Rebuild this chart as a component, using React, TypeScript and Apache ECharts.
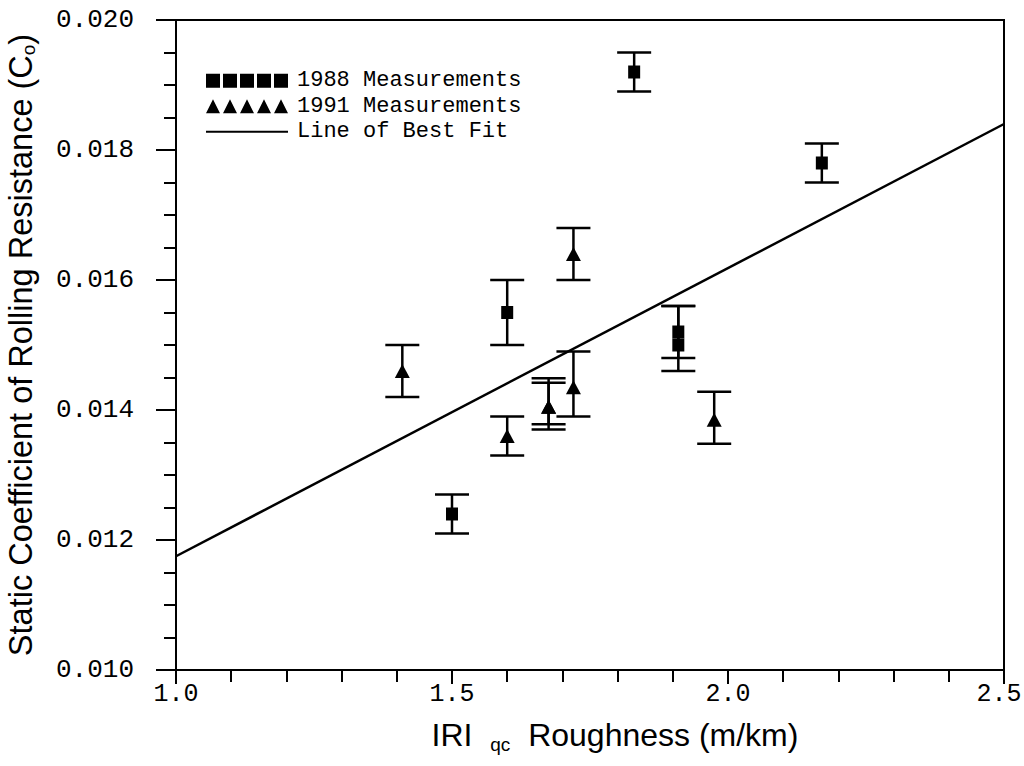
import React, { useEffect, useRef } from "react";
import * as echarts from "echarts";

// 1988 measurements: x, y, error low, error high
const x1988 = [1.50, 1.60, 1.83, 1.91, 1.91, 2.17];
const y1988 = [0.0124, 0.0155, 0.0192, 0.0152, 0.0150, 0.0178];
const lo1988 = [0.0121, 0.0150, 0.0189, 0.0148, 0.0146, 0.0175];
const hi1988 = [0.0127, 0.0160, 0.0195, 0.0156, 0.0156, 0.0181];

// 1991 measurements
const x1991 = [1.41, 1.60, 1.675, 1.675, 1.72, 1.72, 1.975];
const y1991 = [0.0146, 0.0136, 0.01405, 0.01405, 0.01435, 0.0164, 0.01385];
const lo1991 = [0.0142, 0.0133, 0.0137, 0.01378, 0.0139, 0.0160, 0.01348];
const hi1991 = [0.0150, 0.0139, 0.01449, 0.01442, 0.0149, 0.0168, 0.01428];

// Line of best fit endpoints
const fitX = [1.0, 2.5];
const fitY = [0.01175, 0.0184];

const xTicks = { min: 1.0, max: 2.5, interval: 0.5 };
const yTicks = { min: 0.010, max: 0.020, interval: 0.002 };

const SERIES_1988 = "1988 Measurements";
const SERIES_1991 = "1991 Measurements";
const SERIES_FIT = "Line of Best Fit";

const squaresIcon =
  "path://M0,0h14v14h-14z M17,0h14v14h-14z M34,0h14v14h-14z M51,0h14v14h-14z M68,0h14v14h-14z";
const trianglesIcon =
  "path://M0,14L7,0L14,14z M17,14L24,0L31,14z M34,14L41,0L48,14z M51,14L58,0L65,14z M68,14L75,0L82,14z";

const MONO = "'Courier New', 'Liberation Mono', monospace";
const SANS = "'Liberation Sans', Arial, sans-serif";

export default function App() {
  const ref = useRef<HTMLDivElement>(null);

  useEffect(() => {
    if (!ref.current) return;
    const chart = echarts.init(ref.current, null, { renderer: "svg" });

    const err1988 = x1988.map((x, i) => [x, lo1988[i], hi1988[i]]);
    const err1991 = x1991.map((x, i) => [x, lo1991[i], hi1991[i]]);

    const renderErr = (params: any, api: any) => {
      const x = api.value(0);
      const lo = api.value(1);
      const hi = api.value(2);
      const pHi = api.coord([x, hi]);
      const pLo = api.coord([x, lo]);
      const half = 17;
      const style = { stroke: "#000", lineWidth: 2.5, fill: "none" };
      return {
        type: "group",
        children: [
          { type: "line", shape: { x1: pHi[0], y1: pHi[1], x2: pLo[0], y2: pLo[1] }, style },
          { type: "line", shape: { x1: pHi[0] - half, y1: pHi[1], x2: pHi[0] + half, y2: pHi[1] }, style },
          { type: "line", shape: { x1: pLo[0] - half, y1: pLo[1], x2: pLo[0] + half, y2: pLo[1] }, style },
        ],
      };
    };

    chart.setOption({
      animation: false,
      backgroundColor: "#fff",
      grid: {
        left: 176,
        right: 20,
        top: 20,
        bottom: 96,
        show: true,
        borderColor: "#000",
        borderWidth: 2,
        backgroundColor: "transparent",
        outerBoundsMode: "none",
        containLabel: false,
      },
      legend: {
        orient: "vertical",
        left: 200,
        top: 63,
        itemWidth: 82,
        itemHeight: 14,
        itemGap: 0,
        selectedMode: false,
        textStyle: { fontFamily: MONO, fontSize: 22, color: "#000", lineHeight: 25.5, padding: [0, 0, 0, 4] },
        data: [
          { name: SERIES_1988, icon: squaresIcon, itemStyle: { color: "#000" } },
          { name: SERIES_1991, icon: trianglesIcon, itemStyle: { color: "#000" } },
          { name: SERIES_FIT, itemStyle: { opacity: 0 }, lineStyle: { color: "#000", width: 2, opacity: 1 } },
        ],
      },
      xAxis: {
        type: "value",
        min: xTicks.min,
        max: xTicks.max,
        interval: xTicks.interval,
        splitLine: { show: false },
        axisLine: { lineStyle: { color: "#000", width: 2 } },
        axisTick: { length: 14, lineStyle: { color: "#000", width: 2 } },
        minorTick: { show: true, splitNumber: 5, length: 12, lineStyle: { color: "#000", width: 2 } },
        axisLabel: {
          formatter: (v: number) => (v >= xTicks.max ? "{r|" + v.toFixed(1) + "}" : v.toFixed(1)),
          fontFamily: MONO,
          fontSize: 25,
          color: "#000",
          margin: 12,
          rich: {
            r: { fontFamily: MONO, fontSize: 25, color: "#000", padding: [0, 10, 0, 0] },
          },
        },
        name: "{a|IRI  }{s|qc}{a|  Roughness (m/km)}",
        nameLocation: "middle",
        nameGap: 46,
        nameTextStyle: {
          padding: [0, 0, 0, 50],
          rich: {
            a: { fontFamily: SANS, fontSize: 32, color: "#000", lineHeight: 38 },
            s: { fontFamily: SANS, fontSize: 19, color: "#000", lineHeight: 38, padding: [19, 0, 0, 0] },
          },
        },
      },
      yAxis: {
        type: "value",
        min: yTicks.min,
        max: yTicks.max,
        interval: yTicks.interval,
        splitLine: { show: false },
        axisLine: { lineStyle: { color: "#000", width: 2 } },
        axisTick: { length: 20, lineStyle: { color: "#000", width: 2 } },
        minorTick: { show: true, splitNumber: 4, length: 12, lineStyle: { color: "#000", width: 2 } },
        axisLabel: {
          formatter: (v: number) => v.toFixed(3),
          fontFamily: MONO,
          fontSize: 26,
          color: "#000",
          margin: 42,
        },
        name: "{a|Static Coefficient of Rolling Resistance (C}{s|o}{a|)}",
        nameLocation: "middle",
        nameGap: 137,
        nameRotate: 90,
        nameTextStyle: {
          rich: {
            a: { fontFamily: SANS, fontSize: 32.5, color: "#000", lineHeight: 36 },
            s: { fontFamily: SANS, fontSize: 19, color: "#000", lineHeight: 36, padding: [15, 0, 0, 0] },
          },
        },
      },
      series: [
        {
          name: SERIES_FIT,
          type: "line",
          data: fitX.map((x, i) => [x, fitY[i]]),
          symbol: "none",
          lineStyle: { color: "#000", width: 2.5 },
          itemStyle: { color: "#000" },
          silent: true,
          z: 3,
        },
        {
          name: "err1988",
          type: "custom",
          renderItem: renderErr,
          data: err1988,
          encode: { x: 0, y: [1, 2] },
          z: 4,
          silent: true,
        },
        {
          name: "err1991",
          type: "custom",
          renderItem: renderErr,
          data: err1991,
          encode: { x: 0, y: [1, 2] },
          z: 4,
          silent: true,
        },
        {
          name: SERIES_1988,
          type: "scatter",
          data: x1988.map((x, i) => [x, y1988[i]]),
          symbol: "rect",
          symbolSize: [12, 13],
          itemStyle: { color: "#000", opacity: 1 },
          z: 5,
        },
        {
          name: SERIES_1991,
          type: "scatter",
          data: x1991.map((x, i) => [x, y1991[i]]),
          symbol: "triangle",
          symbolSize: [15, 14],
          itemStyle: { color: "#000", opacity: 1 },
          z: 5,
        },
      ],
    });

    return () => chart.dispose();
  }, []);

  return (
    <div
      ref={ref}
      style={{ position: "fixed", left: 0, top: 0, width: 1024, height: 766, background: "#fff" }}
    />
  );
}
